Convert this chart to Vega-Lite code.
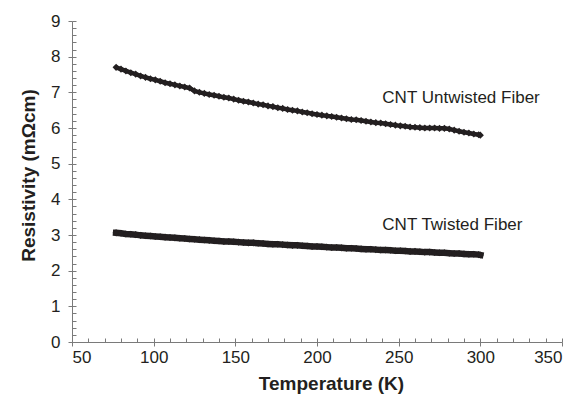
{
  "$schema": "https://vega.github.io/schema/vega-lite/v6.json",
  "width": 490,
  "height": 321,
  "autosize": "none",
  "padding": {"left": 72, "top": 21, "right": 15, "bottom": 57},
  "config": {
    "view": {"stroke": null},
    "font": "Liberation Sans",
    "axis": {
      "grid": false,
      "domainColor": "#7a7a7a",
      "tickColor": "#7a7a7a",
      "labelColor": "#231f20",
      "titleColor": "#231f20",
      "labelFont": "Liberation Sans",
      "titleFont": "Liberation Sans",
      "labelFontSize": 17,
      "titleFontSize": 19,
      "titleFontWeight": "bold"
    }
  },
  "datasets": {
    "curves": [
      {"series": "Untwisted", "T": 77, "R": 7.70}, {"series": "Untwisted", "T": 80, "R": 7.65}, {"series": "Untwisted", "T": 83, "R": 7.60}, {"series": "Untwisted", "T": 86, "R": 7.55}, {"series": "Untwisted", "T": 89, "R": 7.51}, {"series": "Untwisted", "T": 92, "R": 7.46}, {"series": "Untwisted", "T": 95, "R": 7.42}, {"series": "Untwisted", "T": 98, "R": 7.38}, {"series": "Untwisted", "T": 101, "R": 7.35}, {"series": "Untwisted", "T": 104, "R": 7.31}, {"series": "Untwisted", "T": 107, "R": 7.27}, {"series": "Untwisted", "T": 110, "R": 7.24}, {"series": "Untwisted", "T": 113, "R": 7.21}, {"series": "Untwisted", "T": 116, "R": 7.18}, {"series": "Untwisted", "T": 119, "R": 7.15}, {"series": "Untwisted", "T": 122, "R": 7.12}, {"series": "Untwisted", "T": 125, "R": 7.04}, {"series": "Untwisted", "T": 128, "R": 7.00}, {"series": "Untwisted", "T": 131, "R": 6.97}, {"series": "Untwisted", "T": 134, "R": 6.94}, {"series": "Untwisted", "T": 137, "R": 6.92}, {"series": "Untwisted", "T": 140, "R": 6.89}, {"series": "Untwisted", "T": 143, "R": 6.86}, {"series": "Untwisted", "T": 146, "R": 6.84}, {"series": "Untwisted", "T": 149, "R": 6.81}, {"series": "Untwisted", "T": 152, "R": 6.78}, {"series": "Untwisted", "T": 155, "R": 6.75}, {"series": "Untwisted", "T": 158, "R": 6.73}, {"series": "Untwisted", "T": 161, "R": 6.70}, {"series": "Untwisted", "T": 164, "R": 6.67}, {"series": "Untwisted", "T": 167, "R": 6.65}, {"series": "Untwisted", "T": 170, "R": 6.62}, {"series": "Untwisted", "T": 173, "R": 6.60}, {"series": "Untwisted", "T": 176, "R": 6.57}, {"series": "Untwisted", "T": 179, "R": 6.55}, {"series": "Untwisted", "T": 182, "R": 6.52}, {"series": "Untwisted", "T": 185, "R": 6.50}, {"series": "Untwisted", "T": 188, "R": 6.48}, {"series": "Untwisted", "T": 191, "R": 6.45}, {"series": "Untwisted", "T": 194, "R": 6.43}, {"series": "Untwisted", "T": 197, "R": 6.40}, {"series": "Untwisted", "T": 200, "R": 6.38}, {"series": "Untwisted", "T": 203, "R": 6.36}, {"series": "Untwisted", "T": 206, "R": 6.34}, {"series": "Untwisted", "T": 209, "R": 6.32}, {"series": "Untwisted", "T": 212, "R": 6.30}, {"series": "Untwisted", "T": 215, "R": 6.28}, {"series": "Untwisted", "T": 218, "R": 6.26}, {"series": "Untwisted", "T": 221, "R": 6.24}, {"series": "Untwisted", "T": 224, "R": 6.23}, {"series": "Untwisted", "T": 227, "R": 6.21}, {"series": "Untwisted", "T": 230, "R": 6.19}, {"series": "Untwisted", "T": 233, "R": 6.17}, {"series": "Untwisted", "T": 236, "R": 6.15}, {"series": "Untwisted", "T": 239, "R": 6.14}, {"series": "Untwisted", "T": 242, "R": 6.12}, {"series": "Untwisted", "T": 245, "R": 6.10}, {"series": "Untwisted", "T": 248, "R": 6.08}, {"series": "Untwisted", "T": 251, "R": 6.06}, {"series": "Untwisted", "T": 254, "R": 6.05}, {"series": "Untwisted", "T": 257, "R": 6.03}, {"series": "Untwisted", "T": 260, "R": 6.02}, {"series": "Untwisted", "T": 263, "R": 6.01}, {"series": "Untwisted", "T": 266, "R": 6.00}, {"series": "Untwisted", "T": 269, "R": 6.00}, {"series": "Untwisted", "T": 272, "R": 6.00}, {"series": "Untwisted", "T": 275, "R": 5.99}, {"series": "Untwisted", "T": 278, "R": 5.99}, {"series": "Untwisted", "T": 281, "R": 5.97}, {"series": "Untwisted", "T": 284, "R": 5.94}, {"series": "Untwisted", "T": 287, "R": 5.91}, {"series": "Untwisted", "T": 290, "R": 5.88}, {"series": "Untwisted", "T": 293, "R": 5.86}, {"series": "Untwisted", "T": 296, "R": 5.83}, {"series": "Untwisted", "T": 299, "R": 5.81}, {"series": "Untwisted", "T": 300, "R": 5.80},
      {"series": "Twisted", "T": 77, "R": 3.06}, {"series": "Twisted", "T": 80, "R": 3.05}, {"series": "Twisted", "T": 83, "R": 3.03}, {"series": "Twisted", "T": 86, "R": 3.02}, {"series": "Twisted", "T": 89, "R": 3.01}, {"series": "Twisted", "T": 92, "R": 2.99}, {"series": "Twisted", "T": 95, "R": 2.98}, {"series": "Twisted", "T": 98, "R": 2.97}, {"series": "Twisted", "T": 101, "R": 2.96}, {"series": "Twisted", "T": 104, "R": 2.95}, {"series": "Twisted", "T": 107, "R": 2.94}, {"series": "Twisted", "T": 110, "R": 2.93}, {"series": "Twisted", "T": 113, "R": 2.92}, {"series": "Twisted", "T": 116, "R": 2.91}, {"series": "Twisted", "T": 119, "R": 2.90}, {"series": "Twisted", "T": 122, "R": 2.89}, {"series": "Twisted", "T": 125, "R": 2.88}, {"series": "Twisted", "T": 128, "R": 2.87}, {"series": "Twisted", "T": 131, "R": 2.86}, {"series": "Twisted", "T": 134, "R": 2.85}, {"series": "Twisted", "T": 137, "R": 2.84}, {"series": "Twisted", "T": 140, "R": 2.83}, {"series": "Twisted", "T": 143, "R": 2.82}, {"series": "Twisted", "T": 146, "R": 2.82}, {"series": "Twisted", "T": 149, "R": 2.81}, {"series": "Twisted", "T": 152, "R": 2.80}, {"series": "Twisted", "T": 155, "R": 2.79}, {"series": "Twisted", "T": 158, "R": 2.78}, {"series": "Twisted", "T": 161, "R": 2.78}, {"series": "Twisted", "T": 164, "R": 2.77}, {"series": "Twisted", "T": 167, "R": 2.76}, {"series": "Twisted", "T": 170, "R": 2.75}, {"series": "Twisted", "T": 173, "R": 2.74}, {"series": "Twisted", "T": 176, "R": 2.74}, {"series": "Twisted", "T": 179, "R": 2.73}, {"series": "Twisted", "T": 182, "R": 2.72}, {"series": "Twisted", "T": 185, "R": 2.71}, {"series": "Twisted", "T": 188, "R": 2.71}, {"series": "Twisted", "T": 191, "R": 2.70}, {"series": "Twisted", "T": 194, "R": 2.69}, {"series": "Twisted", "T": 197, "R": 2.68}, {"series": "Twisted", "T": 200, "R": 2.68}, {"series": "Twisted", "T": 203, "R": 2.67}, {"series": "Twisted", "T": 206, "R": 2.66}, {"series": "Twisted", "T": 209, "R": 2.65}, {"series": "Twisted", "T": 212, "R": 2.65}, {"series": "Twisted", "T": 215, "R": 2.64}, {"series": "Twisted", "T": 218, "R": 2.63}, {"series": "Twisted", "T": 221, "R": 2.63}, {"series": "Twisted", "T": 224, "R": 2.62}, {"series": "Twisted", "T": 227, "R": 2.61}, {"series": "Twisted", "T": 230, "R": 2.60}, {"series": "Twisted", "T": 233, "R": 2.60}, {"series": "Twisted", "T": 236, "R": 2.59}, {"series": "Twisted", "T": 239, "R": 2.58}, {"series": "Twisted", "T": 242, "R": 2.58}, {"series": "Twisted", "T": 245, "R": 2.57}, {"series": "Twisted", "T": 248, "R": 2.56}, {"series": "Twisted", "T": 251, "R": 2.56}, {"series": "Twisted", "T": 254, "R": 2.55}, {"series": "Twisted", "T": 257, "R": 2.54}, {"series": "Twisted", "T": 260, "R": 2.54}, {"series": "Twisted", "T": 263, "R": 2.53}, {"series": "Twisted", "T": 266, "R": 2.52}, {"series": "Twisted", "T": 269, "R": 2.52}, {"series": "Twisted", "T": 272, "R": 2.51}, {"series": "Twisted", "T": 275, "R": 2.50}, {"series": "Twisted", "T": 278, "R": 2.50}, {"series": "Twisted", "T": 281, "R": 2.49}, {"series": "Twisted", "T": 284, "R": 2.48}, {"series": "Twisted", "T": 287, "R": 2.48}, {"series": "Twisted", "T": 290, "R": 2.47}, {"series": "Twisted", "T": 293, "R": 2.46}, {"series": "Twisted", "T": 296, "R": 2.46}, {"series": "Twisted", "T": 299, "R": 2.45}, {"series": "Twisted", "T": 300, "R": 2.44}
    ],
    "labels": [
      {"label": "CNT Untwisted Fiber", "T": 240, "R": 6.83},
      {"label": "CNT Twisted Fiber", "T": 240, "R": 3.28}
    ]
  },
  "resolve": {"axis": {"x": "independent", "y": "independent"}},
  "layer": [
    {
      "data": {"name": "curves"},
      "mark": {"type": "point", "opacity": 0},
      "encoding": {
        "x": {"field": "T", "type": "quantitative", "scale": {"domain": [50, 350], "nice": false, "zero": false},
          "axis": {"orient": "bottom", "title": "Temperature (K)", "values": [50, 100, 150, 200, 250, 300, 350], "tickSize": 4, "labelPadding": 3, "titlePadding": 9, "titleX": 259, "domainWidth": 1}},
        "y": {"field": "R", "type": "quantitative", "scale": {"domain": [0, 9], "nice": false},
          "axis": {"orient": "left", "title": "Resistivity (mΩcm)", "values": [0, 1, 2, 3, 4, 5, 6, 7, 8, 9], "tickSize": 4, "labelPadding": 8, "titlePadding": 12, "titleY": 154, "domainWidth": 1}}
      }
    },
    {
      "data": {"name": "curves"},
      "mark": {"type": "point", "opacity": 0},
      "encoding": {
        "x": {"field": "T", "type": "quantitative", "scale": {"domain": [50, 350], "nice": false, "zero": false},
          "axis": {"orient": "bottom", "title": null, "labels": false, "domain": false, "tickSize": -4,
            "values": [50, 60, 70, 80, 90, 100, 110, 120, 130, 140, 150, 160, 170, 180, 190, 200, 210, 220, 230, 240, 250, 260, 270, 280, 290, 300, 310, 320, 330, 340, 350]}},
        "y": {"field": "R", "type": "quantitative", "scale": {"domain": [0, 9], "nice": false},
          "axis": {"orient": "left", "title": null, "labels": false, "domain": false, "tickSize": -4,
            "values": [0, 0.2, 0.4, 0.6, 0.8, 1, 1.2, 1.4, 1.6, 1.8, 2, 2.2, 2.4, 2.6, 2.8, 3, 3.2, 3.4, 3.6, 3.8, 4, 4.2, 4.4, 4.6, 4.8, 5, 5.2, 5.4, 5.6, 5.8, 6, 6.2, 6.4, 6.6, 6.8, 7, 7.2, 7.4, 7.6, 7.8, 8, 8.2, 8.4, 8.6, 8.8, 9]}}
      }
    },
    {
      "data": {"name": "curves"},
      "transform": [{"filter": "datum.series === 'Twisted'"}],
      "mark": {"type": "line", "color": "#231f20", "strokeWidth": 6.5, "strokeCap": "square"},
      "encoding": {
        "x": {"field": "T", "type": "quantitative", "scale": {"domain": [50, 350], "nice": false, "zero": false}, "axis": null},
        "y": {"field": "R", "type": "quantitative", "scale": {"domain": [0, 9], "nice": false}, "axis": null}
      }
    },
    {
      "data": {"name": "curves"},
      "transform": [{"filter": "datum.series === 'Untwisted'"}],
      "mark": {"type": "line", "color": "#231f20", "strokeWidth": 4.5},
      "encoding": {
        "x": {"field": "T", "type": "quantitative", "scale": {"domain": [50, 350], "nice": false, "zero": false}, "axis": null},
        "y": {"field": "R", "type": "quantitative", "scale": {"domain": [0, 9], "nice": false}, "axis": null}
      }
    },
    {
      "data": {"name": "curves"},
      "mark": {"type": "point", "shape": "diamond", "filled": true, "color": "#231f20", "opacity": 1, "size": 50},
      "encoding": {
        "x": {"field": "T", "type": "quantitative", "scale": {"domain": [50, 350], "nice": false, "zero": false}, "axis": null},
        "y": {"field": "R", "type": "quantitative", "scale": {"domain": [0, 9], "nice": false}, "axis": null}
      }
    },
    {
      "data": {"name": "labels"},
      "mark": {"type": "text", "align": "left", "baseline": "middle", "fontSize": 17, "color": "#231f20", "font": "Liberation Sans"},
      "encoding": {
        "x": {"field": "T", "type": "quantitative", "scale": {"domain": [50, 350], "nice": false, "zero": false}, "axis": null},
        "y": {"field": "R", "type": "quantitative", "scale": {"domain": [0, 9], "nice": false}, "axis": null},
        "text": {"field": "label"}
      }
    }
  ]
}
